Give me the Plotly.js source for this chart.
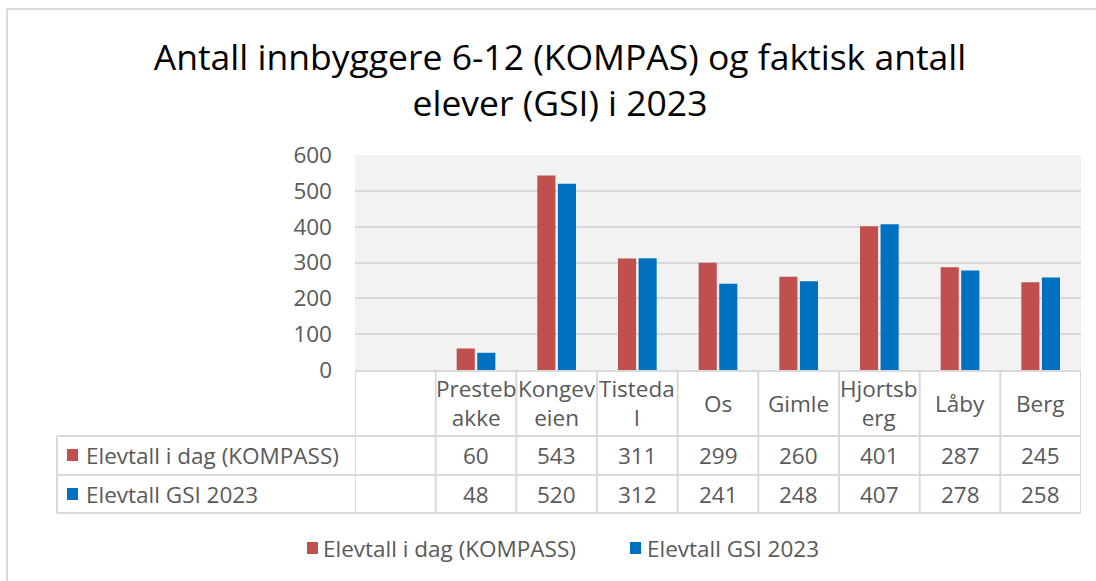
<!DOCTYPE html>
<html>
<head>
<meta charset="utf-8">
<script src="https://cdn.plot.ly/plotly-3.0.1.min.js"></script>
<style>
  html, body { margin: 0; padding: 0; background: #fff; }
  #chart { width: 1096px; height: 581px; }
</style>
</head>
<body>
<div id="chart"></div>
<script>
// skoler (første kolonne er tom i originalen)
const skoler = ['', 'Prestebakke', 'Kongeveien', 'Tistedal', 'Os', 'Gimle', 'Hjortsberg', 'Låby', 'Berg'];
const skoleEtiketter = ['', 'Presteb<br>akke', 'Kongev<br>eien', 'Tisteda<br>l', 'Os', 'Gimle', 'Hjortsb<br>erg', 'Låby', 'Berg'];
const elevtallKompass = [null, 60, 543, 311, 299, 260, 401, 287, 245];
const elevtallGsi = [null, 48, 520, 312, 241, 248, 407, 278, 258];
const serieNavn = ['Elevtall i dag (KOMPASS)', 'Elevtall GSI 2023'];
const farger = ['#c0504d', '#0070c0'];

const W = 1096, H = 581;
const L = 355, R = 1081, T = 155, B = 370;
// piksel -> paper
const px = x => (x - L) / (R - L);
const py = y => (B - y) / (B - T);

const pos = skoler.map((_, i) => i);
const font = 'Open Sans, sans-serif';
const fs = 22.5;
const grey = '#595959';
const lineC = '#d9d9d9';

const trace1 = {
    x: pos,
    y: elevtallKompass,
    name: serieNavn[0],
    type: 'bar',
    marker: {color: farger[0]},
    hoverinfo: 'y'
};

const trace2 = {
    x: pos,
    y: elevtallGsi,
    name: serieNavn[1],
    type: 'bar',
    marker: {color: farger[1]},
    hoverinfo: 'y'
};

// tabellrammer
const shapes = [];
const line = (x0, y0, x1, y1, xref) => shapes.push({
    type: 'line', xref: xref || 'paper', yref: 'paper',
    x0: x0, x1: x1, y0: y0, y1: y1,
    line: {color: lineC, width: 2}, layer: 'above'
});
const key = (x, y, k) => shapes.push({
    type: 'rect', xref: 'paper', yref: 'paper',
    x0: px(x), x1: px(x + 11), y0: py(y - 6), y1: py(y + 6),
    fillcolor: farger[k], line: {width: 0}
});
// ytre ramme
line(px(7), py(9), px(W + 5), py(9));
line(px(7), py(9), px(7), py(H + 5));
// vertikale linjer mellom kolonner
for (let i = 0; i <= skoler.length; i++) {
    line(i - 0.5, py(370), i - 0.5, py(513), 'x');
}
line(px(57), py(436), px(57), py(513));
[436, 475, 513].forEach(y => line(px(57), py(y), px(R), py(y)));
// fargenøkler i tabellen
key(67, 455, 0);
key(67, 494, 1);

const annotations = [];
const txt = (x, xref, y, t, anchor) => annotations.push({
    x: x, xref: xref, y: y, yref: 'paper',
    text: t, showarrow: false, xanchor: anchor || 'center', yanchor: 'middle',
    font: {family: font, size: fs, color: grey}
});
skoleEtiketter.forEach((t, i) => {
    if (t) txt(i, 'x', py(403), t);
});
[elevtallKompass, elevtallGsi].forEach((serie, k) => {
    const yy = py(k === 0 ? 455 : 494);
    txt(px(84), 'paper', yy, serieNavn[k], 'left');
    serie.forEach((v, i) => {
        if (v !== null) txt(i, 'x', yy, String(v));
    });
});

// forklaring nederst
key(307, 548, 0);
txt(px(321), 'paper', py(548), serieNavn[0], 'left');
key(630, 548, 1);
txt(px(645), 'paper', py(548), serieNavn[1], 'left');

const layout = {
    width: W,
    height: H,
    title: {
        text: 'Antall innbyggere 6-12 (KOMPAS) og faktisk antall<br>elever (GSI) i 2023',
        font: {family: font, size: 35.5, color: '#000'},
        x: 560 / W, xref: 'container', xanchor: 'center',
        y: 1 - 70 / H, yref: 'container', yanchor: 'middle'
    },
    paper_bgcolor: '#fff',
    plot_bgcolor: '#f2f2f2',
    barmode: 'group',
    bargap: 0.49,
    bargroupgap: 0.12,
    margin: {l: L, r: W - R, t: T, b: H - B, pad: 0},
    xaxis: {
        range: [-0.5, skoler.length - 0.5],
        showticklabels: false,
        showgrid: false,
        zeroline: false,
        showline: true,
        linecolor: lineC,
        linewidth: 2,
        fixedrange: true
    },
    yaxis: {
        range: [0, 600],
        dtick: 100,
        showgrid: true,
        gridcolor: lineC,
        gridwidth: 2,
        zeroline: false,
        ticks: '',
        ticklabelstandoff: 22,
        tickfont: {family: font, size: fs, color: grey},
        fixedrange: true
    },
    showlegend: false,
    shapes: shapes,
    annotations: annotations
};

Plotly.newPlot('chart', [trace1, trace2], layout, {displayModeBar: false});
</script>
</body>
</html>
